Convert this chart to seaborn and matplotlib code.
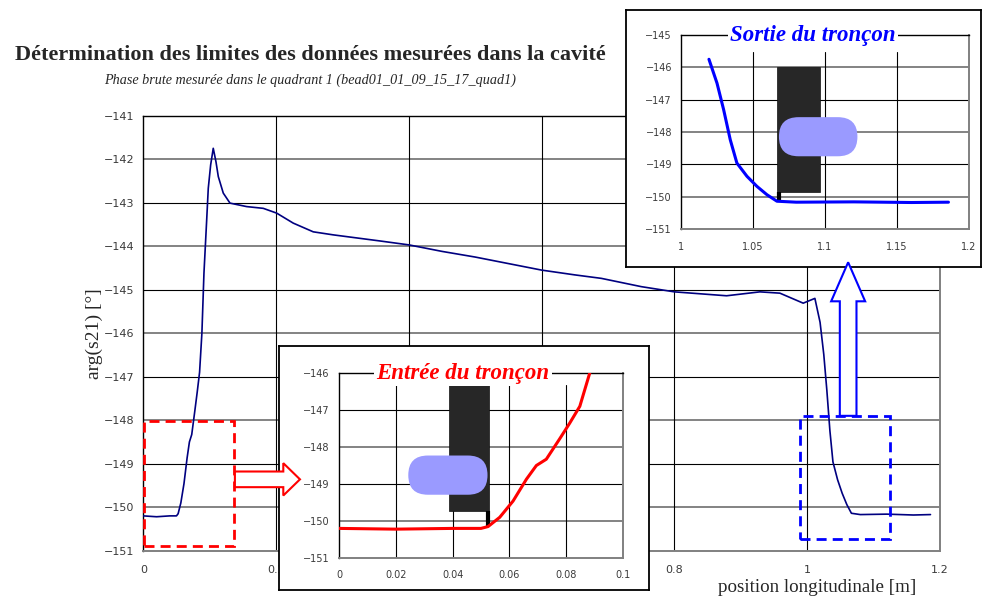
import matplotlib

matplotlib.use("Agg")
import matplotlib.pyplot as plt
from matplotlib.patches import FancyArrow, FancyBboxPatch, Rectangle
import numpy as np
import pandas as pd
import seaborn as sns

# raw phase along the cavity
position = [0.0, 0.02, 0.04, 0.05, 0.0525, 0.0566, 0.0613, 0.066, 0.0695, 0.073,
            0.0777, 0.0812, 0.0848, 0.0883, 0.0914, 0.0955, 0.0979, 0.1015, 0.1054,
            0.1095, 0.113, 0.1205, 0.1306, 0.1557, 0.1807, 0.2009, 0.2259, 0.256,
            0.2862, 0.3163, 0.3565, 0.40, 0.45, 0.50, 0.55, 0.60, 0.65, 0.69, 0.75,
            0.80, 0.8786, 0.9288, 0.9589, 0.994, 1.0116, 1.0194, 1.025, 1.0296,
            1.0342, 1.0388, 1.0458, 1.0527, 1.0597, 1.0666, 1.08, 1.12, 1.16, 1.1857]
phase = [-150.2, -150.22, -150.2, -150.2, -150.15, -149.9, -149.46, -148.87, -148.5,
         -148.33, -147.78, -147.36, -146.9, -146.0, -144.62, -143.4, -142.67, -142.13,
         -141.75, -142.06, -142.4, -142.78, -143.01, -143.09, -143.13, -143.24,
         -143.47, -143.67, -143.74, -143.8, -143.88, -143.97, -144.12, -144.25,
         -144.4, -144.55, -144.66, -144.74, -144.93, -145.05, -145.14, -145.05,
         -145.08, -145.31, -145.2, -145.75, -146.49, -147.31, -148.24, -148.96,
         -149.37, -149.68, -149.94, -150.14, -150.17, -150.16, -150.18, -150.17]

main_xticks = [0, 0.2, 0.4, 0.6, 0.8, 1.0, 1.2]
# 0.4 and 0.6 sit behind the entry inset
main_xticklabels = ["0", "0.2", "", "", "0.8", "1", "1.2"]
main_yticks = list(range(-151, -140))

entry_xticks = [0, 0.02, 0.04, 0.06, 0.08, 0.1]
entry_xticklabels = ["0", "0.02", "0.04", "0.06", "0.08", "0.1"]
entry_yticks = list(range(-151, -145))
exit_xticks = [1.0, 1.05, 1.1, 1.15, 1.2]
exit_xticklabels = ["1", "1.05", "1.1", "1.15", "1.2"]
exit_yticks = list(range(-151, -144))

# (x0, x1, y0, y1) in data units
entry_zoom = (0.0015, 0.137, -150.89, -148.02)
exit_zoom = (0.989, 1.1245, -150.74, -147.9)
entry_shield = (0.0388, 0.0529, -149.73, -146.32)
entry_bead = (0.0244, 0.0523, -149.29, -148.23)
exit_shield = (1.0666, 1.0962, -149.87, -146.0)
exit_bead = (1.068, 1.1225, -148.75, -147.54)

TICK_COLOR = "#3a3a3a"
SERIF = ["Liberation Serif", "DejaVu Serif"]


def style_axes(ax, yticks, xticks, xticklabels, fontsize):
    ax.set_yticks(yticks)
    ax.set_yticklabels([f"\u2212{abs(v)}" for v in yticks])
    ax.set_xticks(xticks)
    ax.set_xticklabels(xticklabels)
    ax.tick_params(axis="both", labelsize=fontsize, colors=TICK_COLOR, length=3,
                   width=0.8)
    ax.tick_params(axis="x", length=0, pad=10)
    ax.set_xlabel("")
    ax.set_ylabel("")
    for name in ("top", "left"):
        ax.spines[name].set_color("black")
        ax.spines[name].set_linewidth(1.0)
    for name in ("bottom", "right"):
        ax.spines[name].set_color("#808080")
        ax.spines[name].set_linewidth(1.4)


def add_grid(ax, hlines, vlines, vtop=1.0):
    for i, y in enumerate(hlines):
        color, lw = ("#7a7a7a", 1.3) if i % 2 == 0 else ("black", 0.8)
        ax.axhline(y, color=color, lw=lw, zorder=1)
    for x in vlines:
        ax.axvline(x, ymax=vtop, color="black", lw=0.8, zorder=1)


def add_pill(fig, ax, box, color):
    x0, x1, y0, y1 = box
    (px0, py0), (px1, py1) = ax.transData.transform([(x0, y0), (x1, y1)])
    w = (px1 - px0) / fig.dpi
    h = (py1 - py0) / fig.dpi
    pill = FancyBboxPatch((px0 / fig.dpi, py0 / fig.dpi), w, h,
                          boxstyle=f"round,pad=0,rounding_size={h / 2}",
                          transform=fig.dpi_scale_trans, fc=color, ec="none",
                          zorder=4)
    ax.add_artist(pill)


def add_shield(ax, box, stub_x, stub_bottom):
    x0, x1, y0, y1 = box
    ax.add_patch(Rectangle((x0, y0), x1 - x0, y1 - y0, fc="#272727", ec="#111111",
                           lw=0.5, zorder=3))
    ax.plot([stub_x, stub_x], [y0, stub_bottom], color="black", lw=3,
            solid_capstyle="butt", zorder=3)


def add_frame(fig, rect, zorder):
    frame = fig.add_axes(rect, zorder=zorder)
    frame.set_xticks([])
    frame.set_yticks([])
    frame.set_facecolor("white")
    for sp in frame.spines.values():
        sp.set_color("black")
        sp.set_linewidth(1.3)
    return frame


sns.set_style("white")
plt.rcParams["font.family"] = ["DejaVu Sans"]

df = pd.DataFrame({"position": position, "phase": phase})
entry_df = df[df["position"] <= 0.095]
exit_df = df[df["position"] >= 1.019]

fig = plt.figure(figsize=(9.82, 6.0), dpi=100)

# main chart
ax = fig.add_axes([0.1459, 0.0822, 0.8113, 0.725], zorder=1)
sns.lineplot(data=df, x="position", y="phase", ax=ax, color="#000080", lw=1.2,
             estimator=None, sort=False, zorder=3)
ax.set_xlim(0, 1.2)
ax.set_ylim(-151, -141)
style_axes(ax, main_yticks, main_xticks, main_xticklabels, 8)
add_grid(ax, main_yticks[1:-1], main_xticks[1:-1])
ax.set_ylabel("arg(s21) [°]", family=SERIF, fontsize=14)
ax.yaxis.set_label_coords(-0.05, 0.5)
ax.set_xlabel("position longitudinale [m]", family=SERIF, fontsize=13.7)
ax.xaxis.set_label_coords(0.8456, -0.066)

for box, color in ((entry_zoom, "#ff0000"), (exit_zoom, "#0000ff")):
    x0, x1, y0, y1 = box
    ax.add_patch(Rectangle((x0, y0), x1 - x0, y1 - y0, fill=False, ec=color, lw=2,
                           ls=(0, (3.6, 2.2)), zorder=4))

fig.text(310 / 982, 1 - 55 / 600,
         "Détermination des limites des données mesurées dans la cavité",
         family=SERIF, fontsize=16, fontweight="bold", ha="center", va="center")
fig.text(310 / 982, 1 - 80 / 600,
         "Phase brute mesurée dans le quadrant 1 (bead01_01_09_15_17_quad1)",
         family=SERIF, fontsize=10.2, style="italic", ha="center", va="center")

# inset: entry of the section
add_frame(fig, [0.2841, 0.01667, 0.3768, 0.4067], zorder=2)
ax_in = fig.add_axes([0.3452, 0.07, 0.2892, 0.3083], zorder=3)
ax_in.set_xlim(0, 0.1)
ax_in.set_ylim(-151, -146)
add_grid(ax_in, entry_yticks[1:-1], entry_xticks[1:-1], vtop=0.936)
add_shield(ax_in, entry_shield, 0.0523, -150.13)
add_pill(fig, ax_in, entry_bead, "#9a9aff")
sns.lineplot(data=entry_df, x="position", y="phase", ax=ax_in, color="#ff0000",
             lw=2.2, estimator=None, sort=False, zorder=5)
style_axes(ax_in, entry_yticks, entry_xticks, entry_xticklabels, 7)
ax_in.tick_params(axis="x", pad=9)
ax_in.text(0.437, 1.0, "Entrée du tronçon", transform=ax_in.transAxes,
           family=SERIF, fontsize=16.5, fontweight="bold", style="italic",
           color="#ff0000", ha="center", va="center", zorder=6,
           bbox=dict(fc="white", ec="none", pad=1.5))

# inset: exit of the section
add_frame(fig, [0.6375, 0.555, 0.3615, 0.4283], zorder=4)
ax_out = fig.add_axes([0.6935, 0.6183, 0.2933, 0.3233], zorder=5)
ax_out.set_xlim(1.0, 1.2)
ax_out.set_ylim(-151, -145)
add_grid(ax_out, exit_yticks[1:-1], exit_xticks[1:-1], vtop=0.915)
add_shield(ax_out, exit_shield, 1.068, -150.1)
add_pill(fig, ax_out, exit_bead, "#9a9aff")
sns.lineplot(data=exit_df, x="position", y="phase", ax=ax_out, color="#0000ff",
             lw=2.2, estimator=None, sort=False, zorder=5)
style_axes(ax_out, exit_yticks, exit_xticks, exit_xticklabels, 7)
ax_out.tick_params(axis="x", pad=9)
ax_out.text(0.458, 1.0, "Sortie du tronçon", transform=ax_out.transAxes,
            family=SERIF, fontsize=16.5, fontweight="bold", style="italic",
            color="#0000ff", ha="center", va="center", zorder=6,
            bbox=dict(fc="white", ec="none", pad=1.5))

# hollow arrows pointing from the zoom boxes to the insets
fig.add_artist(FancyArrow(0.138, -149.36, 0.098, 0, width=0.36, head_width=0.745,
                          head_length=0.0251, length_includes_head=True,
                          fc="white", ec="#ff0000", lw=1.5, transform=ax.transData,
                          zorder=10))
fig.add_artist(FancyArrow(1.0617, -147.9, 0, 3.53, width=0.0251, head_width=0.0512,
                          head_length=0.897, length_includes_head=True,
                          fc="white", ec="#0000ff", lw=1.5, transform=ax.transData,
                          zorder=10))

fig.savefig("out.png", dpi=100)
